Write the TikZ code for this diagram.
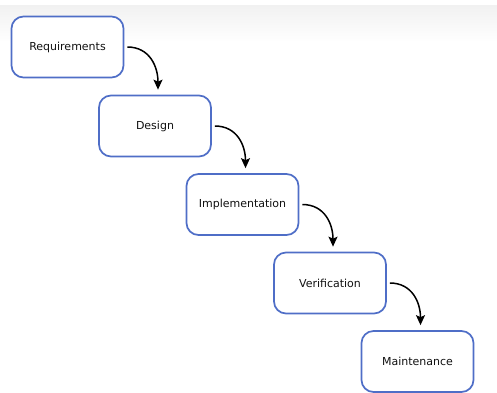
\documentclass[tikz,border=0pt]{standalone}
\usepackage{fontspec}
\setmainfont{DejaVu Sans}
\usetikzlibrary{arrows.meta}
\definecolor{boxblue}{HTML}{4F6EC7}
\definecolor{txt}{HTML}{111111}
\definecolor{band}{HTML}{F1F1F1}
\tikzset{
  stagebox/.style={draw=boxblue, line width=1.7pt, rounded corners=12pt, fill=white,
    minimum width=112pt, minimum height=61pt, inner sep=0pt, text=txt,
    font=\fontsize{11pt}{13pt}\selectfont},
  flow/.style={line width=1.5pt, black, -{Stealth[length=10pt,width=9pt,inset=2pt]}}
}
\begin{document}
\begin{tikzpicture}[x=1pt,y=-1pt]
\useasboundingbox (0,0) rectangle (497,392);
\shade[top color=band, bottom color=white] (0,5) rectangle (497,42);
\node[stagebox] (req) at (67.5,47) {Requirements};
\node[stagebox] (des) at (155,126) {Design};
\node[stagebox] (imp) at (242.5,204.5) {Implementation};
\node[stagebox] (ver) at (330,283) {Verification};
\node[stagebox] (mai) at (417.5,361.5) {Maintenance};
\draw[flow] ([xshift=3pt]req.east) to[out=0,in=90,looseness=1.1] ([xshift=3pt,yshift=5pt]des.north);
\draw[flow] ([xshift=3pt]des.east) to[out=0,in=90,looseness=1.1] ([xshift=3pt,yshift=5pt]imp.north);
\draw[flow] ([xshift=3pt]imp.east) to[out=0,in=90,looseness=1.1] ([xshift=3pt,yshift=5pt]ver.north);
\draw[flow] ([xshift=3pt]ver.east) to[out=0,in=90,looseness=1.1] ([xshift=3pt,yshift=5pt]mai.north);
\end{tikzpicture}
\end{document}
